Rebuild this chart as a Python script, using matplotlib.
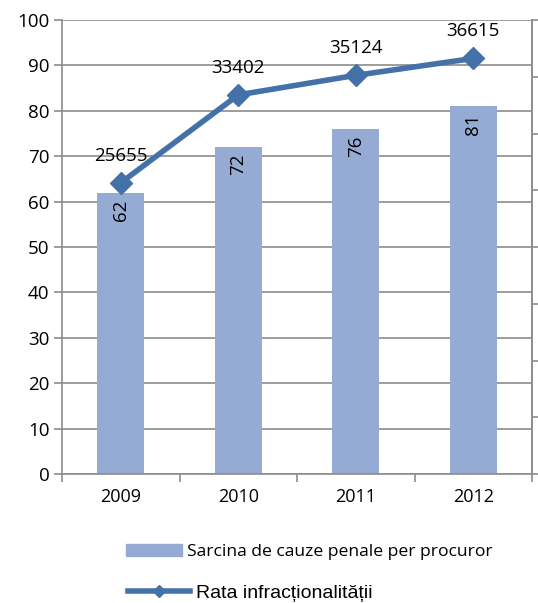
import matplotlib
matplotlib.use("Agg")
import matplotlib.pyplot as plt
from matplotlib.lines import Line2D
from matplotlib.patches import Patch

years = ["2009", "2010", "2011", "2012"]
load_per_prosecutor = [62, 72, 76, 81]
crime_rate = [25655, 33402, 35124, 36615]

BAR = "#95abd3"
LINE = "#4571a9"
GRID = "#8c8c8c"

plt.rcParams["font.family"] = ["Open Sans", "DejaVu Sans"]

fig = plt.figure(figsize=(5.38, 6.03), dpi=100)
W, H = 538, 603
ax = fig.add_axes([62 / W, 1 - 474 / H, (532 - 62) / W, (474 - 20) / H])
ax2 = ax.twinx()

x = list(range(len(years)))
bars = ax.bar(x, load_per_prosecutor, width=0.4, color=BAR, zorder=2)
ax.set_xlim(-0.5, len(years) - 0.5)
ax.set_ylim(0, 100)
ax.set_yticks(range(0, 101, 10))
ax.yaxis.grid(True, color=GRID, lw=1.2, zorder=0)
ax.set_axisbelow(True)
ax.tick_params(axis="y", length=6, width=1.2, color=GRID, labelsize=13.5, pad=3)
ax.set_xticks(x)
ax.set_xticklabels(years)
ax.set_xticks([i + 0.5 for i in range(-1, len(years))], minor=True)
ax.tick_params(axis="x", which="major", length=0, labelsize=13, pad=10)
ax.tick_params(axis="x", which="minor", length=6, width=1.2, color=GRID)
for sp in ["left", "bottom", "right"]:
    ax.spines[sp].set_color(GRID)
    ax.spines[sp].set_linewidth(1.2)
ax.spines["top"].set_visible(False)

for b, v in zip(bars, load_per_prosecutor):
    ax.text(b.get_x() + b.get_width() / 2, v - 1.5, str(v), rotation=90,
            ha="center", va="top", fontsize=13.5)

ax2.plot(x, crime_rate, color=LINE, lw=4, marker="D", ms=11, zorder=3)
ax2.set_ylim(0, 40000)
ax2.set_yticks(range(0, 40001, 5000))
ax2.set_yticklabels([])
ax2.tick_params(axis="y", length=6, width=1.2, color=GRID)
for sp in ["left", "bottom", "right", "top"]:
    ax2.spines[sp].set_visible(False)
ax2.spines["right"].set_visible(True)
ax2.spines["right"].set_color(GRID)
ax2.spines["right"].set_linewidth(1.2)
for xi, v in zip(x, crime_rate):
    ax2.annotate(str(v), (xi, v), xytext=(0, 13), textcoords="offset points",
                 ha="center", va="bottom", fontsize=13.5)

handles = [Patch(color=BAR), Line2D([], [], color=LINE, lw=4, marker="D", ms=6)]
fig.legend(handles[:1], ["Sarcina de cauze penale per procuror"],
           loc="center left", bbox_to_anchor=(110 / W, 1 - 552 / H),
           frameon=False, fontsize=12.6, handlelength=3.2, handletextpad=0.3)
fig.legend(handles[1:], ["Rata infracționalității"],
           loc="center left", bbox_to_anchor=(110 / W, 1 - 593 / H),
           frameon=False, handlelength=3.2, handletextpad=0.3,
           prop={"family": ["Liberation Sans", "DejaVu Sans"], "size": 14})

fig.savefig("out.png", dpi=100)
